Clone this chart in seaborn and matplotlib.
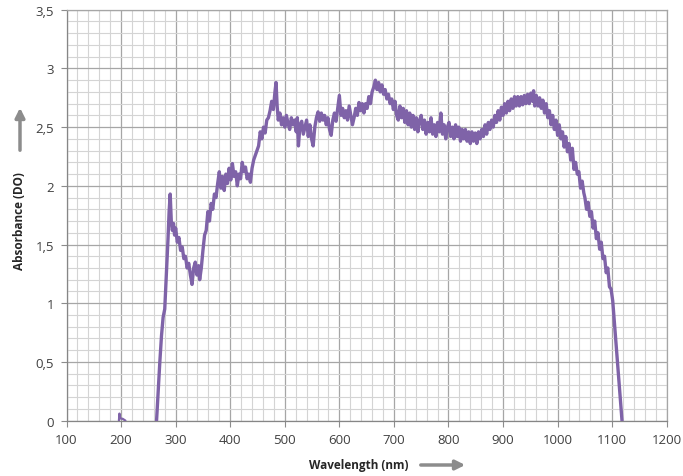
import numpy as np
import pandas as pd
import matplotlib.pyplot as plt
import seaborn as sns
from matplotlib.ticker import MultipleLocator

# spectrum (nm, absorbance)
wavelength = [
    265, 268, 271, 274, 277, 280, 283, 286, 288, 290, 292, 294, 296, 298, 300,
    303, 306, 309, 312, 315, 318, 321, 324, 327, 330, 333, 336, 339, 342, 344,
    347, 350, 353, 356, 359, 362, 365, 368, 371, 374, 377, 380, 383, 386, 389,
    392, 395, 398, 401, 404, 407, 410, 413, 416, 419, 422, 425, 428, 431, 434,
    437, 440, 443, 446, 449, 452, 455, 458, 461, 464, 467, 470, 473, 476, 479,
    482, 484, 486, 488, 491, 494, 497, 500, 503, 506, 509, 512, 515, 518, 521,
    523, 525, 528, 531, 534, 537, 540, 543, 546, 549, 552, 555, 558, 561, 564,
    567, 570, 573, 576, 579, 582, 585, 588, 591, 594, 597, 600, 603, 606, 609,
    612, 615, 618, 621, 624, 627, 630, 633, 636, 639, 642, 645, 648, 651, 654,
    657, 660, 663, 666, 669, 672, 675, 678, 681, 684, 687, 690, 693, 696, 699,
    702, 705, 708, 711, 714, 717, 720, 723, 726, 729, 732, 735, 738, 741, 744,
    747, 750, 753, 756, 759, 762, 765, 768, 771, 774, 777, 780, 783, 786, 789,
    792, 795, 798, 801, 804, 807, 810, 813, 816, 819, 822, 825, 828, 831, 834,
    837, 840, 843, 846, 849, 852, 855, 858, 861, 864, 867, 870, 873, 876, 879,
    882, 885, 888, 891, 894, 897, 900, 903, 906, 909, 912, 915, 918, 921, 924,
    927, 930, 933, 936, 939, 942, 945, 948, 951, 954, 956, 958, 961, 964, 967,
    970, 973, 976, 979, 982, 985, 988, 991, 994, 997, 1000, 1003, 1006, 1009, 1012,
    1015, 1018, 1021, 1024, 1027, 1030, 1033, 1036, 1039, 1042, 1045, 1048, 1050, 1053, 1056,
    1059, 1062, 1065, 1068, 1071, 1074, 1077, 1080, 1083, 1086, 1089, 1092, 1095, 1098, 1101,
    1104, 1107, 1110, 1113, 1116, 1118,
]
absorbance = [
    # 265 - 699
    0.00, 0.25, 0.50, 0.72, 0.88, 0.95, 1.25, 1.55, 1.78, 1.93, 1.70, 1.62, 1.68, 1.58, 1.64,
    1.52, 1.56, 1.45, 1.48, 1.38, 1.40, 1.30, 1.34, 1.24, 1.16, 1.30, 1.35, 1.24, 1.32, 1.20,
    1.30, 1.45, 1.58, 1.62, 1.78, 1.70, 1.85, 1.80, 1.93, 1.90, 2.02, 2.12, 1.98, 2.08, 1.96,
    2.10, 2.02, 2.15, 2.05, 2.19, 2.08, 2.12, 2.00, 2.10, 2.06, 2.20, 2.12, 2.16, 2.06, 2.10,
    2.03, 2.15, 2.22, 2.26, 2.30, 2.34, 2.46, 2.40, 2.50, 2.45, 2.56, 2.58, 2.64, 2.72, 2.65,
    2.80, 2.88, 2.68, 2.56, 2.62, 2.52, 2.58, 2.50, 2.60, 2.53, 2.48, 2.58, 2.52, 2.56, 2.46,
    2.58, 2.34, 2.52, 2.55, 2.44, 2.50, 2.56, 2.42, 2.52, 2.40, 2.34, 2.50, 2.58, 2.63, 2.55,
    2.62, 2.56, 2.60, 2.52, 2.58, 2.48, 2.43, 2.56, 2.62, 2.55, 2.66, 2.77, 2.60, 2.66, 2.58,
    2.64, 2.56, 2.68, 2.60, 2.52, 2.58, 2.66, 2.60, 2.71, 2.64, 2.70, 2.62, 2.70, 2.66, 2.76,
    2.70, 2.80, 2.84, 2.90, 2.82, 2.88, 2.80, 2.86, 2.78, 2.82, 2.74, 2.78, 2.70, 2.74, 2.65,
    # 702 - 900
    2.72, 2.60, 2.56, 2.68, 2.58, 2.66, 2.54, 2.64, 2.52, 2.62, 2.50, 2.60, 2.48, 2.58, 2.46,
    2.56, 2.60, 2.48, 2.56, 2.44, 2.54, 2.46, 2.58, 2.44, 2.52, 2.42, 2.54, 2.46, 2.62, 2.44,
    2.52, 2.40, 2.50, 2.54, 2.42, 2.50, 2.40, 2.52, 2.42, 2.50, 2.38, 2.48, 2.40, 2.48, 2.38,
    2.46, 2.36, 2.46, 2.38, 2.45, 2.36, 2.46, 2.40, 2.48, 2.42, 2.52, 2.44, 2.54, 2.48, 2.56,
    2.50, 2.60, 2.54, 2.64, 2.56, 2.67, 2.60,
    # 903 - 954
    2.70, 2.62, 2.72, 2.64, 2.74, 2.66, 2.76, 2.68, 2.76, 2.68, 2.76, 2.69, 2.77, 2.70, 2.78,
    2.70, 2.79, 2.72,
    # 956 - 1118
    2.81, 2.68, 2.77, 2.68, 2.75, 2.66, 2.73, 2.62, 2.70, 2.58, 2.64, 2.52, 2.60, 2.48, 2.56,
    2.43, 2.52, 2.40, 2.46, 2.33, 2.42, 2.29, 2.36, 2.22, 2.32, 2.14, 2.20, 2.10, 2.12, 1.98,
    2.04, 1.94, 1.90, 1.80, 1.86, 1.74, 1.78, 1.64, 1.70, 1.55, 1.60, 1.46, 1.52, 1.38, 1.40,
    1.26, 1.30, 1.14, 1.12, 1.02, 0.84, 0.66, 0.48, 0.30, 0.12, 0.00,
]

# small blip near 200 nm
blip_wavelength = [196, 197, 198, 203, 208]
blip_absorbance = [0.00, 0.06, 0.02, 0.015, 0.00]

xticks = list(range(100, 1201, 100))
yticks = [0, 0.5, 1, 1.5, 2, 2.5, 3, 3.5]
ytick_labels = ["0", "0,5", "1", "1,5", "2", "2,5", "3", "3,5"]

spectrum = pd.DataFrame({"wavelength": wavelength, "absorbance": absorbance})
blip = pd.DataFrame({"wavelength": blip_wavelength, "absorbance": blip_absorbance})

sns.set_style("white")
plt.rcParams["font.family"] = ["Open Sans", "DejaVu Sans"]

line_color = "#7f63a8"

fig = plt.figure(figsize=(6.83, 4.77), dpi=100)
ax = fig.add_axes([0.0974, 0.1161, 0.8788, 0.8614])

sns.lineplot(data=spectrum, x="wavelength", y="absorbance", color=line_color,
             linewidth=2.4, ax=ax, sort=False, zorder=3)
sns.lineplot(data=blip, x="wavelength", y="absorbance", color=line_color,
             linewidth=1.6, ax=ax, sort=False, zorder=3)

ax.set_xlim(100, 1200)
ax.set_ylim(0, 3.5)
ax.set_xticks(xticks)
ax.set_xticklabels([str(t) for t in xticks])
ax.set_yticks(yticks)
ax.set_yticklabels(ytick_labels)
ax.xaxis.set_minor_locator(MultipleLocator(20))
ax.yaxis.set_minor_locator(MultipleLocator(0.1))
ax.grid(which="major", color="#a6a6a6", linewidth=0.9)
ax.grid(which="minor", color="#d4d4d4", linewidth=0.8)
ax.set_axisbelow(True)
ax.tick_params(which="major", direction="out", length=4, width=0.8, color="#8c8c8c",
               labelsize=9.5, labelcolor="#404040", pad=5)
ax.tick_params(which="minor", length=0)
ax.tick_params(axis="x", bottom=True)
ax.tick_params(axis="y", left=True)
for side in ["top", "right"]:
    ax.spines[side].set_color("#a6a6a6")
    ax.spines[side].set_linewidth(0.9)
for side in ["left", "bottom"]:
    ax.spines[side].set_color("#868686")
    ax.spines[side].set_linewidth(0.9)
ax.set_xlabel("")
ax.set_ylabel("")

# axis titles with grey arrows, placed like the original
fig.text(359 / 683, 1 - 466 / 477, "Wavelength (nm)", ha="center", va="center",
         fontsize=8.5, fontweight="bold", color="#262626")
fig.text(20 / 683, 1 - 221 / 477, "Absorbance (DO)", ha="center", va="center",
         rotation=90, fontsize=8.5, fontweight="bold", color="#262626")
arrow = dict(arrowstyle="-|>", color="#8c8c8c", lw=2.5, mutation_scale=14)
ax.annotate("", xy=(468, 477 - 466), xytext=(418, 477 - 466),
            xycoords="figure pixels", textcoords="figure pixels", arrowprops=arrow)
ax.annotate("", xy=(20, 477 - 106), xytext=(20, 477 - 154),
            xycoords="figure pixels", textcoords="figure pixels", arrowprops=arrow)

plt.savefig("out.png", dpi=100)
